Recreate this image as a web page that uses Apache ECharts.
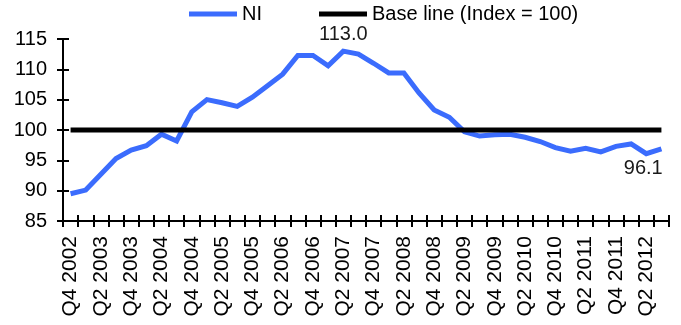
<!DOCTYPE html>
<html>
<head>
<meta charset="utf-8">
<script src="https://cdn.jsdelivr.net/npm/echarts@6/dist/echarts.min.js"></script>
<style>
  html, body { margin: 0; padding: 0; background: #fff; }
  #chart { width: 681px; height: 325px; }
</style>
</head>
<body>
<div id="chart"></div>
<script>
// Quarterly index, Q4 2002 – Q3 2012
const quarters = [
  'Q4 2002', 'Q1 2003', 'Q2 2003', 'Q3 2003', 'Q4 2003',
  'Q1 2004', 'Q2 2004', 'Q3 2004', 'Q4 2004',
  'Q1 2005', 'Q2 2005', 'Q3 2005', 'Q4 2005',
  'Q1 2006', 'Q2 2006', 'Q3 2006', 'Q4 2006',
  'Q1 2007', 'Q2 2007', 'Q3 2007', 'Q4 2007',
  'Q1 2008', 'Q2 2008', 'Q3 2008', 'Q4 2008',
  'Q1 2009', 'Q2 2009', 'Q3 2009', 'Q4 2009',
  'Q1 2010', 'Q2 2010', 'Q3 2010', 'Q4 2010',
  'Q1 2011', 'Q2 2011', 'Q3 2011', 'Q4 2011',
  'Q1 2012', 'Q2 2012', 'Q3 2012'
];

const niValues = [
  89.5, 90.1, 92.7, 95.3, 96.7,
  97.4, 99.3, 98.2, 103.0,
  105.0, 104.5, 103.9, 105.4,
  107.3, 109.2, 112.3, 112.3,
  110.6, 113.0, 112.5, 111.0,
  109.4, 109.4, 106.1, 103.3,
  102.1, 99.7, 99.0, 99.2,
  99.3, 98.8, 98.1, 97.1,
  96.5, 97.0, 96.4, 97.3,
  97.7, 96.1, 96.9
];

const baseLine = [
  100, 100, 100, 100, 100, 100, 100, 100, 100, 100,
  100, 100, 100, 100, 100, 100, 100, 100, 100, 100,
  100, 100, 100, 100, 100, 100, 100, 100, 100, 100,
  100, 100, 100, 100, 100, 100, 100, 100, 100, 100
];

// Points carrying a value label: the peak and the latest low
const labelledPoints = [18, 38];

const yMin = 85, yMax = 115, yStep = 5;

const FONT = "'Liberation Sans', Arial, sans-serif";
const BLUE = '#3b6cfd';

const peak = Math.max(...niValues);

const niData = niValues.map((v, i) => {
  if (!labelledPoints.includes(i)) return v;
  const isPeak = v === peak;
  return {
    value: v,
    label: {
      show: true,
      position: isPeak ? 'top' : 'bottom',
      distance: isPeak ? 7 : 5,
      offset: isPeak ? [0, 0] : [-3, 0],
      formatter: p => Number(p.value).toFixed(1),
      fontFamily: FONT,
      fontSize: 20,
      color: '#1a1a1a'
    }
  };
});

const chart = echarts.init(document.getElementById('chart'));

const tickStyle = { color: '#000', width: 2 };

chart.setOption({
  animation: false,
  textStyle: { fontFamily: FONT },
  legend: {
    left: 184,
    top: -1,
    icon: 'rect',
    itemWidth: 48,
    itemHeight: 5,
    itemGap: 57,
    textStyle: { fontFamily: FONT, fontSize: 20, color: '#000' },
    data: ['NI', 'Base line (Index = 100)']
  },
  grid: { left: 63, right: 12, top: 39, bottom: 104 },
  xAxis: [
    {
      type: 'category',
      data: quarters,
      boundaryGap: true,
      axisLine: { lineStyle: { color: '#000', width: 2 } },
      axisTick: { show: true, inside: false, length: 6, interval: 0, lineStyle: tickStyle },
      axisLabel: {
        interval: 1,
        rotate: 90,
        margin: 15,
        fontFamily: FONT,
        fontSize: 21,
        color: '#000'
      },
      splitLine: { show: false }
    },
    {
      type: 'category',
      data: quarters,
      position: 'bottom',
      boundaryGap: true,
      axisLine: { show: false },
      axisTick: { show: true, inside: true, length: 6, interval: 0, lineStyle: tickStyle },
      axisLabel: { show: false },
      splitLine: { show: false }
    }
  ],
  yAxis: [
    {
      type: 'value',
      min: yMin,
      max: yMax,
      interval: yStep,
      axisLine: { show: true, lineStyle: { color: '#000', width: 2 } },
      axisTick: { show: true, inside: false, length: 6, lineStyle: tickStyle },
      axisLabel: { margin: 16, fontFamily: FONT, fontSize: 20, color: '#000' },
      splitLine: { show: false }
    },
    {
      type: 'value',
      position: 'left',
      min: yMin,
      max: yMax,
      interval: yStep,
      axisLine: { show: false },
      axisTick: { show: true, inside: true, length: 6, lineStyle: tickStyle },
      axisLabel: { show: false },
      splitLine: { show: false }
    }
  ],
  series: [
    {
      name: 'NI',
      type: 'line',
      data: niData,
      symbol: 'circle',
      symbolSize: 0,
      showSymbol: true,
      lineStyle: { color: BLUE, width: 5, join: 'miter' },
      itemStyle: { color: BLUE },
      z: 2
    },
    {
      name: 'Base line (Index = 100)',
      type: 'line',
      data: baseLine,
      symbol: 'none',
      lineStyle: { color: '#000', width: 5 },
      itemStyle: { color: '#000' },
      z: 3
    }
  ]
});
</script>
</body>
</html>
